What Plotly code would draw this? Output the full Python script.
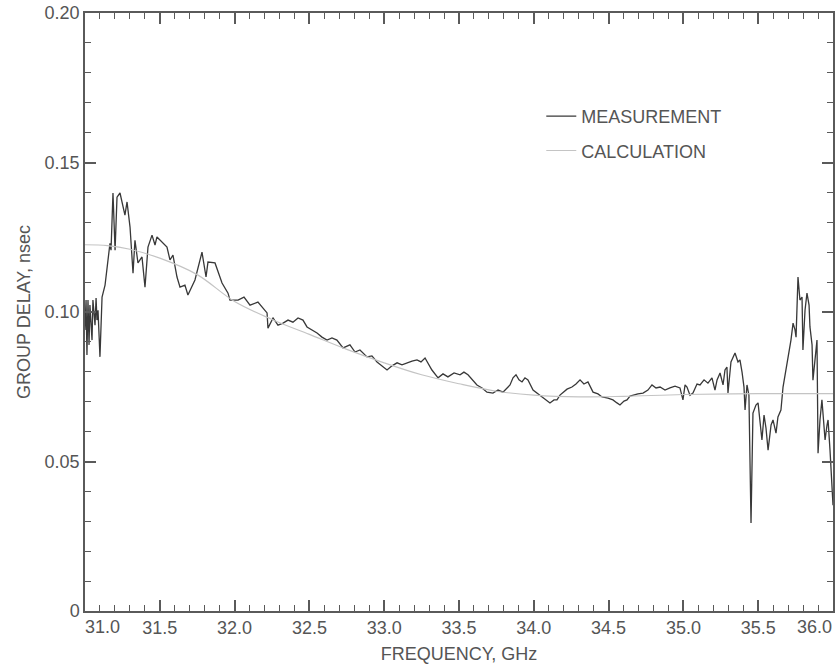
import plotly.graph_objects as go

meas_freq = [31.000, 31.007, 31.013, 31.020, 31.027, 31.033, 31.047, 31.053, 31.067, 31.074,
             31.080, 31.087, 31.100, 31.107, 31.114, 31.134, 31.147, 31.167, 31.174, 31.187,
             31.201, 31.214, 31.234, 31.254, 31.267, 31.281, 31.301, 31.321, 31.334, 31.354,
             31.381, 31.401, 31.421, 31.448, 31.468, 31.481, 31.515, 31.548, 31.568, 31.588,
             31.615, 31.635, 31.668, 31.688, 31.735, 31.782, 31.809, 31.822, 31.869, 31.916,
             31.956, 31.969, 32.023, 32.063, 32.103, 32.156, 32.190, 32.217, 32.223, 32.257,
             32.290, 32.324, 32.357, 32.390, 32.424, 32.457, 32.484, 32.517, 32.551, 32.584,
             32.618, 32.651, 32.684, 32.725, 32.771, 32.805, 32.838, 32.885, 32.918, 32.952,
             32.985, 33.019, 33.052, 33.086, 33.119, 33.152, 33.186, 33.219, 33.246, 33.273,
             33.299, 33.319, 33.360, 33.393, 33.426, 33.467, 33.507, 33.533, 33.560, 33.587,
             33.620, 33.654, 33.687, 33.727, 33.761, 33.794, 33.821, 33.841, 33.861, 33.881,
             33.901, 33.921, 33.941, 33.961, 33.995, 34.028, 34.061, 34.088, 34.108, 34.135,
             34.155, 34.175, 34.195, 34.222, 34.255, 34.282, 34.309, 34.335, 34.362, 34.396,
             34.429, 34.456, 34.496, 34.529, 34.556, 34.576, 34.603, 34.623, 34.643, 34.663,
             34.696, 34.730, 34.763, 34.790, 34.817, 34.844, 34.877, 34.910, 34.944, 34.977,
             34.997, 35.011, 35.024, 35.044, 35.064, 35.091, 35.111, 35.138, 35.164, 35.191,
             35.211, 35.225, 35.245, 35.265, 35.278, 35.291, 35.298, 35.318, 35.345, 35.365,
             35.378, 35.392, 35.405, 35.412, 35.425, 35.438, 35.452, 35.465, 35.485, 35.499,
             35.512, 35.525, 35.539, 35.552, 35.566, 35.586, 35.599, 35.619, 35.632, 35.652,
             35.666, 35.686, 35.699, 35.719, 35.733, 35.746, 35.753, 35.766, 35.779, 35.793,
             35.799, 35.813, 35.826, 35.840, 35.846, 35.860, 35.866, 35.880, 35.893, 35.900,
             35.913, 35.926, 35.940, 35.947, 35.960, 35.967, 35.980, 35.993, 36.000]
meas_delay = [0.0940, 0.1040, 0.0856, 0.1040, 0.0890, 0.1023, 0.0906, 0.1040, 0.0956, 0.1047,
              0.0973, 0.1006, 0.0850, 0.0940, 0.1050, 0.1090, 0.1150, 0.1230, 0.1207, 0.1398,
              0.1207, 0.1384, 0.1398, 0.1351, 0.1324, 0.1368, 0.1284, 0.1130, 0.1240, 0.1164,
              0.1184, 0.1083, 0.1217, 0.1257, 0.1224, 0.1251, 0.1234, 0.1217, 0.1174, 0.1190,
              0.1117, 0.1083, 0.1090, 0.1057, 0.1107, 0.1200, 0.1117, 0.1167, 0.1164, 0.1097,
              0.1063, 0.1040, 0.1040, 0.1050, 0.1023, 0.1033, 0.1013, 0.0997, 0.0946, 0.0980,
              0.0956, 0.0963, 0.0973, 0.0966, 0.0980, 0.0973, 0.0950, 0.0940, 0.0930, 0.0916,
              0.0906, 0.0913, 0.0906, 0.0880, 0.0890, 0.0866, 0.0873, 0.0850, 0.0853, 0.0833,
              0.0820, 0.0806, 0.0820, 0.0830, 0.0823, 0.0830, 0.0836, 0.0840, 0.0833, 0.0846,
              0.0823, 0.0806, 0.0780, 0.0793, 0.0783, 0.0796, 0.0790, 0.0799, 0.0790, 0.0773,
              0.0756, 0.0746, 0.0732, 0.0729, 0.0739, 0.0732, 0.0746, 0.0756, 0.0780, 0.0790,
              0.0773, 0.0766, 0.0780, 0.0773, 0.0739, 0.0726, 0.0712, 0.0702, 0.0696, 0.0706,
              0.0706, 0.0722, 0.0732, 0.0742, 0.0749, 0.0759, 0.0773, 0.0759, 0.0766, 0.0732,
              0.0726, 0.0716, 0.0712, 0.0706, 0.0696, 0.0689, 0.0702, 0.0706, 0.0719, 0.0722,
              0.0726, 0.0729, 0.0739, 0.0756, 0.0746, 0.0749, 0.0739, 0.0746, 0.0752, 0.0746,
              0.0706, 0.0756, 0.0749, 0.0722, 0.0729, 0.0759, 0.0756, 0.0773, 0.0762, 0.0780,
              0.0739, 0.0773, 0.0796, 0.0756, 0.0806, 0.0816, 0.0729, 0.0833, 0.0863, 0.0833,
              0.0840, 0.0799, 0.0749, 0.0672, 0.0756, 0.0722, 0.0294, 0.0662, 0.0689, 0.0696,
              0.0622, 0.0572, 0.0655, 0.0612, 0.0538, 0.0622, 0.0639, 0.0595, 0.0649, 0.0672,
              0.0749, 0.0806, 0.0849, 0.0906, 0.0963, 0.0940, 0.0916, 0.1117, 0.1040, 0.1050,
              0.0873, 0.1006, 0.1063, 0.1023, 0.0950, 0.0890, 0.0772, 0.0840, 0.0906, 0.0528,
              0.0639, 0.0706, 0.0622, 0.0572, 0.0622, 0.0639, 0.0538, 0.0395, 0.0354]

# Calculated group delay (smooth curve)
calc_freq = [31.00, 31.15, 31.30, 31.50, 31.75, 32.00, 32.25, 32.50, 32.75, 33.00,
             33.25, 33.50, 33.75, 34.00, 34.30, 34.60, 35.00, 35.50, 36.00]
calc_delay = [0.1225, 0.1222, 0.1210, 0.1180, 0.1125, 0.1035, 0.0975, 0.0925, 0.0875, 0.0830,
              0.0790, 0.0760, 0.0735, 0.0722, 0.0716, 0.0718, 0.0724, 0.0727, 0.0727]

x_tick_vals = [31.0, 31.5, 32.0, 32.5, 33.0, 33.5, 34.0, 34.5, 35.0, 35.5, 36.0]
x_tick_text = ["31.0", "31.5", "32.0", "32.5", "33.0", "33.5", "34.0", "34.5", "35.0", "35.5", "36.0"]
x_minor_per_major = 5
y_tick_vals = [0, 0.05, 0.10, 0.15, 0.20]
y_tick_text = ["0", "0.05", "0.10", "0.15", "0.20"]
y_minor_per_major = 5

FONT = "Liberation Sans, Arial, sans-serif"
TXT = "#555555"
AX = "#5a5a5a"
FS = 18

W, H = 839, 670
M = dict(l=85, r=6, t=13, b=59)

x_range = [x_tick_vals[0], x_tick_vals[-1]]
y_range = [y_tick_vals[0], y_tick_vals[-1]]

# minor tick positions derived from the major tick arrays
x_minor_vals = [x_tick_vals[i] + (x_tick_vals[i + 1] - x_tick_vals[i]) * k / x_minor_per_major
                for i in range(len(x_tick_vals) - 1) for k in range(1, x_minor_per_major)]
y_minor_vals = [y_tick_vals[i] + (y_tick_vals[i + 1] - y_tick_vals[i]) * k / y_minor_per_major
                for i in range(len(y_tick_vals) - 1) for k in range(1, y_minor_per_major)]

fig = go.Figure()
fig.add_trace(go.Scatter(x=meas_freq, y=meas_delay, mode="lines", name="MEASUREMENT",
                         line=dict(color="#383838", width=1.3), legendgroup="m"))
fig.add_trace(go.Scatter(x=calc_freq, y=calc_delay, mode="lines", name="CALCULATION",
                         line=dict(color="#c4c4c4", width=1.2, shape="spline"), legendgroup="c"))

x_alias = {x_tick_text[0]: " ", x_tick_text[-1]: " "}
y_alias = {f"{v:.2f}": t for v, t in zip(y_tick_vals, y_tick_text)}

fig.update_layout(
    xaxis=dict(range=x_range, tickmode="array", tickvals=x_tick_vals,
               ticktext=[" "] + x_tick_text[1:-1] + [" "],
               showline=True, linecolor=AX, linewidth=1.5, mirror="allticks",
               ticks="inside", ticklen=11, tickwidth=1.5, tickcolor=AX,
               showgrid=False, zeroline=False,
               tickfont=dict(family=FONT, size=FS, color=TXT),
               title=dict(text="FREQUENCY, GHz", font=dict(family=FONT, size=FS, color=TXT), standoff=10)),
    yaxis=dict(range=y_range, tickmode="array", tickvals=y_tick_vals, ticktext=y_tick_text,
               showline=True, linecolor=AX, linewidth=1.5, mirror="allticks",
               ticks="inside", ticklen=11, tickwidth=1.5, tickcolor=AX,
               showgrid=False, zeroline=False,
               tickfont=dict(family=FONT, size=FS, color=TXT),
               title=dict(text="GROUP DELAY, nsec", font=dict(family=FONT, size=FS, color=TXT), standoff=9)),
    # second pair of axes carrying the minor ticks only
    xaxis2=dict(range=x_range, overlaying="x", anchor="y", side="bottom",
                tickmode="array", tickvals=x_minor_vals, showticklabels=False,
                ticks="inside", ticklen=6, tickwidth=1.4, tickcolor=AX,
                showline=False, mirror="allticks", showgrid=False, zeroline=False),
    yaxis2=dict(range=y_range, overlaying="y", anchor="x", side="left",
                tickmode="array", tickvals=y_minor_vals, showticklabels=False,
                ticks="inside", ticklen=6, tickwidth=1.4, tickcolor=AX,
                showline=False, mirror="allticks", showgrid=False, zeroline=False),
)
fig.add_trace(go.Scatter(x=x_range, y=y_range, xaxis="x2", yaxis="y2", mode="markers",
                         marker=dict(opacity=0, size=1), showlegend=False, hoverinfo="skip"))

for v, t, anc in [(x_tick_vals[0], x_tick_text[0], "left"), (x_tick_vals[-1], x_tick_text[-1], "right")]:
    fig.add_annotation(x=v, y=0, xref="x", yref="paper", text=t, showarrow=False,
                       xanchor=anc, yanchor="top", yshift=-4, xshift=-2 if anc == "left" else 1,
                       font=dict(family=FONT, size=FS, color=TXT))

fig.update_layout(
    width=W, height=H,
    margin=dict(**M, autoexpand=False),
    paper_bgcolor="white", plot_bgcolor="white",
    showlegend=True,
    legend=dict(x=0.61, y=0.858, xanchor="left", yanchor="top",
                bgcolor="rgba(0,0,0,0)", borderwidth=0, tracegroupgap=8,
                font=dict(family=FONT, size=FS, color=TXT)),
)

fig.write_html("out.html", config={"displayModeBar": False},
               post_script="document.body.style.margin='0';document.body.style.overflow='hidden';")
